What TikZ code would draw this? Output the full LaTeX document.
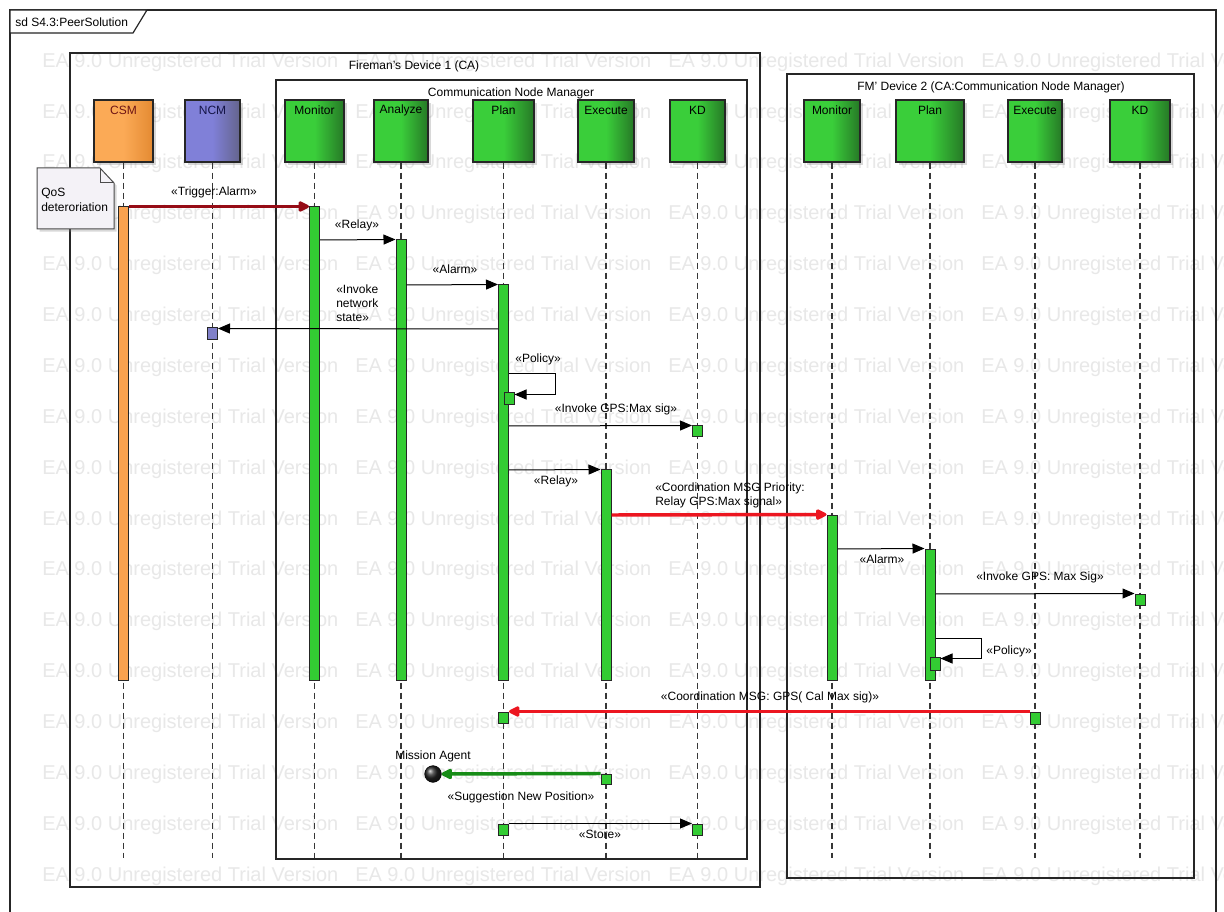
\documentclass[tikz,border=0pt]{standalone}
\usepackage{fontspec}
\setmainfont{Liberation Sans}
\usetikzlibrary{arrows.meta,shadows,fit,calc}
\definecolor{gA}{RGB}{58,206,58}
\definecolor{gB}{RGB}{38,120,38}
\definecolor{gbar}{RGB}{51,204,51}
\definecolor{oA}{RGB}{251,170,86}
\definecolor{oB}{RGB}{228,138,50}
\definecolor{obar}{RGB}{249,162,79}
\definecolor{bA}{RGB}{128,128,216}
\definecolor{bB}{RGB}{100,100,140}
\definecolor{nbox}{RGB}{128,128,200}
\definecolor{msgred}{RGB}{236,22,32}
\definecolor{trigred}{RGB}{150,12,22}
\definecolor{msggreen}{RGB}{22,140,22}
\definecolor{wmark}{RGB}{232,232,232}
\definecolor{notefill}{RGB}{244,242,247}
\definecolor{lline}{RGB}{55,55,55}
\begin{document}
\begin{tikzpicture}[x=0.75pt,y=-0.75pt,
  every node/.style={font=\fontsize{9}{10.5}\selectfont, inner sep=0pt},
  wm/.style={font=\fontsize{15}{18}\selectfont, text=wmark, anchor=west},
  head/.style={draw=black!85, line width=0.9pt, inner sep=0pt,
    drop shadow={shadow xshift=2pt,shadow yshift=-2pt,opacity=0.3}},
  ghead/.style={head, left color=gA, right color=gB, middle color=gA},
  ohead/.style={head, left color=oA, right color=oB, middle color=oA},
  bhead/.style={head, left color=bA, right color=bB, middle color=bA},
  headtxt/.style={anchor=center},
  actg/.style={draw=black!85, line width=0.75pt, fill=gbar, inner sep=0pt},
  acto/.style={draw=black!85, line width=0.75pt, fill=obar, inner sep=0pt},
  actb/.style={draw=black!85, line width=0.75pt, fill=nbox, inner sep=0pt},
  frame/.style={draw=black!85, line width=0.9pt},
  lifeline/.style={draw=lline, line width=0.9pt, dash pattern=on 4.5pt off 3pt},
  msg/.style={draw=black, line width=0.75pt, -{Triangle[length=9pt,width=7.5pt]}},
  redmsg/.style={draw=msgred, line width=2.6pt, -{Triangle[round,length=9.5pt,width=8.5pt]}},
  trigmsg/.style={redmsg, draw=trigred},
  greenmsg/.style={redmsg, draw=msggreen},
  mlabel/.style={anchor=center}
]
\useasboundingbox (0,0) rectangle (1224,912);
\fill[white] (0,0) rectangle (1224,912);

% watermark
\begin{scope}
\clip (0,0) rectangle (1224,912);
\foreach \r in {0,...,16}{
  \foreach \c in {0,...,3}{
    \node[wm] (wm-\r-\c) at ({42+313*\c},{62+50.875*\r}) {EA 9.0 Unregistered Trial Version};
  }
}
% outer frame
\draw[frame] (10,930) -- (10,10) -- (1216,10) -- (1216,930);
\end{scope}

% tab
\draw[frame, fill=white] (10,10) -- (147,10) -- (133,33) -- (10,33) -- cycle;
\node[anchor=west] (sdtitle) at (15,22) {sd S4.3:PeerSolution};

% frames
\draw[frame] (70,53) rectangle (760,887);
\node (dev1) at (414,66) {Fireman's Device 1 (CA)};
\draw[frame] (276,80) rectangle (747,859);
\node (cnm) at (511,93) {Communication Node Manager};
\draw[frame] (787,74) rectangle (1194,878);
\node (dev2) at (991,87) {FM' Device 2 (CA:Communication Node Manager)};

% heads
\node[ohead, fit={(94,100)(153,162)}] (csm) {};
\node[bhead, fit={(185,100)(240,162)}] (ncm) {};
\node[ghead, fit={(285,100)(344,162)}] (mon1) {};
\node[ghead, fit={(374,100)(428,162)}] (ana1) {};
\node[ghead, fit={(473,100)(534,162)}] (plan1) {};
\node[ghead, fit={(578,100)(634,162)}] (exec1) {};
\node[ghead, fit={(670,100)(725,162)}] (kd1) {};
\node[ghead, fit={(804,100)(860,162)}] (mon2) {};
\node[ghead, fit={(896,100)(964,162)}] (plan2) {};
\node[ghead, fit={(1008,100)(1062,162)}] (exec2) {};
\node[ghead, fit={(1110,100)(1170,162)}] (kd2) {};

\node[headtxt, text={rgb,255:red,110;green,20;blue,20}] (csmt) at (csm.north |- 0,110) {CSM};
\node[headtxt, text={rgb,255:red,20;green,20;blue,70}] (ncmt) at (ncm.north |- 0,110) {NCM};
\node[headtxt] (mon1t) at (mon1.north |- 0,110) {Monitor};
\node[headtxt] (ana1t) at (ana1.north |- 0,110) {Analyze};
\node[headtxt] (plan1t) at (plan1.north |- 0,110) {Plan};
\node[headtxt] (exec1t) at (exec1.north |- 0,110) {Execute};
\node[headtxt] (kd1t) at (kd1.north |- 0,110) {KD};
\node[headtxt] (mon2t) at (mon2.north |- 0,110) {Monitor};
\node[headtxt] (plan2t) at (plan2.north |- 0,110) {Plan};
\node[headtxt] (exec2t) at (exec2.north |- 0,110) {Execute};
\node[headtxt] (kd2t) at (kd2.north |- 0,110) {KD};

% lifelines
\foreach \h in {csm,ncm,mon1,ana1,plan1,exec1,kd1,mon2,plan2,exec2,kd2}{
  \draw[lifeline] (\h.south) -- (\h.south |- 0,858);
}

% note
\draw[draw=black!70, line width=0.75pt, fill=notefill,
  drop shadow={shadow xshift=2pt,shadow yshift=-2pt,opacity=0.3}]
  (37,168) -- (100,168) -- (114,183) -- (114,229) -- (37,229) -- cycle;
\draw[draw=black!70, line width=0.75pt] (100,168) -- (100,183) -- (114,183);
\node[anchor=west, align=left, font=\fontsize{9}{11}\selectfont] (qos) at (41,200) {QoS\\deteroriation};

% activation bars
\node[acto, fit={(118.5,207)(128.5,680)}] (csmA) {};
\node[actg, fit={(309.5,207)(319.5,680)}] (monA) {};
\node[actg, fit={(396,240)(406,680)}] (anaA) {};
\node[actg, fit={(498.5,285)(508.5,680)}] (planA) {};
\node[actg, fit={(504,393)(514,405)}] (pol1) {};
\node[actg, fit={(692.5,426)(702.5,437)}] (kd1a) {};
\node[actg, fit={(601,470)(611,680)}] (execA) {};
\node[actg, fit={(827,515)(837,680)}] (mon2A) {};
\node[actg, fit={(925,549)(935,680)}] (plan2A) {};
\node[actg, fit={(930,657)(940,670)}] (pol2) {};
\node[actg, fit={(1135,594)(1145,605)}] (kd2a) {};
\node[actg, fit={(1030,712)(1040,724)}] (exec2a) {};
\node[actg, fit={(498.5,712)(508.5,723)}] (plan1b) {};
\node[actg, fit={(601,774)(611,784)}] (exec1b) {};
\node[actg, fit={(498.5,824)(508.5,835)}] (plan1c) {};
\node[actg, fit={(692.5,824)(702.5,835)}] (kd1b) {};
\node[actb, fit={(207.5,328)(217.5,340)}] (ncmb) {};

% mission agent
\node[circle, inner sep=0pt, minimum size=12.5pt, ball color=black!85, draw=black] (agent) at (433,774) {};
\node (agentt) at (433,756) {Mission Agent};

% messages
\draw[trigmsg] (csmA.north east) -- (monA.north west);
\node[mlabel] (l1) at (214,192) {«Trigger:Alarm»};

\draw[msg] (monA.east |- 0,240) -- (anaA.north west);
\node[mlabel] (l2) at (357,225) {«Relay»};

\draw[msg] (anaA.east |- 0,285) -- (planA.north west);
\node[mlabel] (l3) at (455,269) {«Alarm»};

\draw[msg] (planA.west |- 0,329) -- ($(ncmb.north east)+(0,1)$);
\node[anchor=west, align=left] (l4) at (336,303) {«Invoke\\network\\state»};

\draw[msg] (planA.east |- 0,374) -- ++(46,0) |- ($(pol1.north east)+(0,2)$);
\node[mlabel] (l5) at (538,359) {«Policy»};

\draw[msg] (planA.east |- 0,426) -- (kd1a.north west);
\node[mlabel] (l6) at (616,409) {«Invoke GPS:Max sig»};

\draw[msg] (planA.east |- 0,470) -- (execA.north west);
\node[mlabel] (l7) at (556,481) {«Relay»};

\draw[redmsg] (execA.east |- 0,515) -- (mon2A.north west);
\node[anchor=west, align=left] (l8) at (655,495) {«Coordination MSG Priority:\\Relay GPS:Max signal»};

\draw[msg] (mon2A.east |- 0,549) -- (plan2A.north west);
\node[mlabel] (l9) at (882,559) {«Alarm»};

\draw[msg] (plan2A.east |- 0,594) -- (kd2a.north west);
\node[mlabel] (l10) at (1040,577) {«Invoke GPS: Max Sig»};

\draw[msg] (plan2A.east |- 0,638) -- ++(46,0) |- ($(pol2.north east)+(0,2)$);
\node[mlabel] (l11) at (1009,651) {«Policy»};

\draw[redmsg] (exec2a.north west) -- (exec2a.north west -| plan1b.east);
\node[mlabel] (l12) at (770,697) {«Coordination MSG: GPS( Cal Max sig)»};

\draw[greenmsg] (exec1b.north west) -- (agent.east);
\node[mlabel] (l13) at (521,797) {«Suggestion New Position»};

\draw[msg] (plan1c.north east) -- (kd1b.north west);
\node[mlabel] (l14) at (600,834) {«Store»};
\end{tikzpicture}
\end{document}
